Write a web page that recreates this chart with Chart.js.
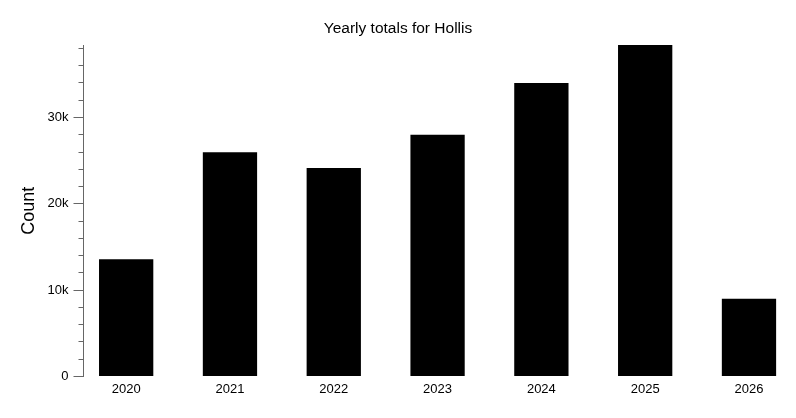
<!DOCTYPE html>
<html>
<head>
<meta charset="utf-8">
<script src="https://cdn.jsdelivr.net/npm/chart.js@4.4.1/dist/chart.umd.min.js"></script>
<style>
  html, body { margin: 0; padding: 0; background: #fff; }
  #wrap { width: 796px; height: 418px; position: relative; }
</style>
</head>
<body>
<div id="wrap"><canvas id="yearChart"></canvas></div>
<script>
// ========================
// DATA
// ========================
const years = [2020, 2021, 2022, 2023, 2024, 2025, 2026];
const totals = [13580, 25970, 24150, 28010, 34000, 38400, 9010];
const majorTicks = [0, 10000, 20000, 30000];
const minorStep = 2000;

const FONT = "'Liberation Sans', Arial, Helvetica, sans-serif";
const AXIS_GREY = "#666";

function tickLabel(v) {
  if (!majorTicks.includes(v)) return "";
  return v === 0 ? "0" : (v / 1000) + "k";
}

function isMajor(c) {
  return c.tick && majorTicks.includes(c.tick.value);
}

// ========================
// CHART RENDER
// ========================
const ctx = document.getElementById("yearChart").getContext("2d");

new Chart(ctx, {
  type: "bar",
  data: {
    datasets: [
      {
        label: "Count",
        data: years.map((yr, i) => ({ x: yr, y: totals[i] })),
        backgroundColor: "#000",
        borderWidth: 0,
        barPercentage: 1,
        categoryPercentage: 0.523
      }
    ]
  },
  options: {
    responsive: true,
    maintainAspectRatio: false,
    animation: false,
    layout: { padding: 0 },
    plugins: {
      legend: { display: false },
      tooltip: { enabled: false },
      title: {
        display: true,
        text: "Yearly totals for Hollis",
        color: "#000",
        font: { family: FONT, size: 15.5, weight: "normal" },
        padding: { top: 19.5, bottom: 6.9 }
      }
    },
    scales: {
      x: {
        type: "linear",
        offset: false,
        min: 2019.589,
        max: 2026.453,
        afterBuildTicks: s => { s.ticks = years.map(v => ({ value: v })); },
        afterFit: s => { s.height = 41.5; },
        grid: { display: false, drawTicks: false },
        border: { display: false },
        ticks: {
          padding: 5,
          color: "#000",
          font: { family: FONT, size: 13 },
          callback: v => String(v)
        }
      },
      y: {
        min: 0,
        max: Math.max(...totals),
        // minor ticks every 2k up to the top of the axis
        afterBuildTicks: s => {
          const t = [];
          for (let v = 0; v <= s.max; v += minorStep) t.push({ value: v });
          s.ticks = t;
        },
        afterFit: s => { s.width = 83.5; },
        border: { display: true, color: AXIS_GREY, width: 1 },
        grid: {
          drawOnChartArea: false,
          drawTicks: true,
          tickLength: 10,
          tickColor: AXIS_GREY,
          tickWidth: 1,
          tickBorderDash: c => isMajor(c) ? [] : [5, 5],
          tickBorderDashOffset: c => isMajor(c) ? 0 : 5
        },
        ticks: {
          autoSkip: false,
          padding: 5,
          color: "#000",
          font: { family: FONT, size: 13 },
          callback: tickLabel
        },
        title: {
          display: true,
          text: "Count",
          color: "#000",
          font: { family: FONT, size: 18 },
          padding: { top: 18, bottom: 0 }
        }
      }
    }
  }
});
</script>
</body>
</html>
